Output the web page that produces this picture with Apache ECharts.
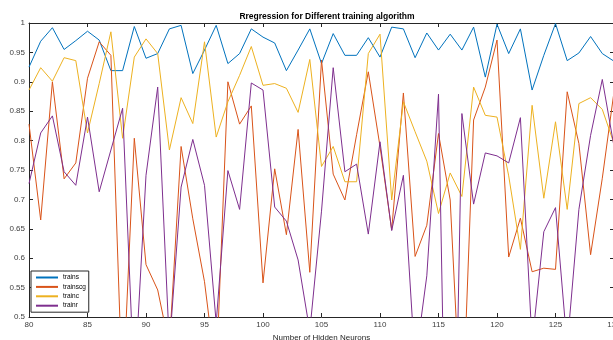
<!DOCTYPE html>
<html>
<head>
<meta charset="utf-8">
<script src="https://cdn.jsdelivr.net/npm/echarts@6/dist/echarts.min.js"></script>
<style>
  html, body { margin: 0; padding: 0; background: #fff; }
  #chart { width: 613px; height: 340px; }
</style>
</head>
<body>
<div id="chart"></div>
<script>
// x = number of hidden neurons, 80..130
const neurons = []
for (let n = 80; n <= 130; n++) neurons.push(n)

const trains = [0.925, 0.969, 0.992, 0.955, 0.970, 0.986, 0.971, 0.919, 0.919, 0.994,
  0.940, 0.948, 0.990, 0.996, 0.914, 0.954, 0.996, 0.931, 0.948, 0.990,
  0.976, 0.966, 0.919, 0.954, 0.990, 0.931, 0.982, 0.945, 0.945, 0.975,
  0.942, 0.993, 0.990, 0.941, 0.983, 0.954, 0.981, 0.954, 0.993, 0.908,
  0.998, 0.948, 0.990, 0.886, 0.945, 0.999, 0.936, 0.949, 0.977, 0.948, 0.935]

const trainscg = [0.828, 0.665, 0.900, 0.735, 0.762, 0.906, 0.968, 0.945, 0.360, 0.804,
  0.589, 0.546, 0.450, 0.790, 0.667, 0.560, 0.400, 0.900, 0.828, 0.859,
  0.558, 0.752, 0.640, 0.819, 0.576, 0.937, 0.743, 0.699, 0.810, 0.917,
  0.790, 0.648, 0.881, 0.603, 0.656, 0.812, 0.699, 0.300, 0.835, 0.891,
  0.971, 0.602, 0.668, 0.577, 0.583, 0.581, 0.883, 0.795, 0.606, 0.736, 0.883]

const trainc = [0.886, 0.924, 0.901, 0.941, 0.936, 0.813, 0.897, 0.985, 0.804, 0.942,
  0.973, 0.948, 0.784, 0.873, 0.829, 0.968, 0.806, 0.866, 0.911, 0.960,
  0.894, 0.897, 0.889, 0.848, 0.938, 0.756, 0.790, 0.730, 0.730, 0.948,
  0.981, 0.699, 0.866, 0.815, 0.765, 0.676, 0.745, 0.705, 0.891, 0.843,
  0.840, 0.740, 0.615, 0.860, 0.702, 0.832, 0.683, 0.863, 0.873, 0.853, 0.795]

const trainr = [0.727, 0.813, 0.842, 0.747, 0.724, 0.840, 0.713, 0.784, 0.855, 0.380,
  0.741, 0.891, 0.450, 0.721, 0.802, 0.724, 0.490, 0.749, 0.683, 0.898,
  0.886, 0.687, 0.663, 0.597, 0.476, 0.680, 0.924, 0.747, 0.760, 0.641,
  0.798, 0.647, 0.741, 0.420, 0.570, 0.879, -0.200, 0.846, 0.692, 0.779,
  0.774, 0.762, 0.839, 0.455, 0.645, 0.686, 0.450, 0.683, 0.809, 0.904, 0.790]

const names = ['trains', 'trainscg', 'trainc', 'trainr']
const colors = ['#0072BD', '#D95319', '#EDB120', '#7E2F8E']
const values = [trains, trainscg, trainc, trainr]

const font = 'Liberation Sans, Arial, sans-serif'
const axisColor = '#262626'

const chart = echarts.init(document.getElementById('chart'), null, { renderer: 'canvas' })

const tickStyle = { show: true, inside: true, length: 4, lineStyle: { color: axisColor, width: 1 } }

chart.setOption({
  backgroundColor: '#fff',
  animation: false,
  textStyle: { fontFamily: font },
  title: {
    text: 'Rregression for Different training algorithm',
    left: 322,
    top: 7,
    textAlign: 'center',
    textStyle: { fontSize: 8.5, fontWeight: 'bold', color: '#000', fontFamily: font }
  },
  legend: {
    data: names,
    orient: 'vertical',
    left: 31,
    top: 271,
    itemWidth: 22,
    itemHeight: 7,
    itemGap: 2.4,
    padding: [3, 3, 3, 4],
    backgroundColor: '#fff',
    borderColor: axisColor,
    borderWidth: 1,
    borderRadius: 0,
    itemStyle: { opacity: 0 },
    textStyle: { fontSize: 6.5, color: '#000', fontFamily: font }
  },
  grid: { left: 29, right: -1, top: 23, bottom: 23, containLabel: false, outerBoundsMode: 'none' },
  xAxis: [{
    type: 'value',
    min: 80,
    max: 130,
    interval: 5,
    name: 'Number of Hidden Neurons',
    nameLocation: 'middle',
    nameGap: 14,
    nameTextStyle: { fontSize: 8, color: axisColor, fontFamily: font },
    axisLine: { show: true, lineStyle: { color: axisColor, width: 1 } },
    axisTick: tickStyle,
    axisLabel: { fontSize: 8, color: '#404040', margin: 4, fontFamily: font, alignMaxLabel: 'center', hideOverlap: false },
    splitLine: { show: false }
  }, {
    type: 'value',
    position: 'top',
    min: 80,
    max: 130,
    interval: 5,
    axisLine: { show: true, lineStyle: { color: axisColor, width: 1 } },
    axisTick: tickStyle,
    axisLabel: { show: false },
    splitLine: { show: false }
  }],
  yAxis: [{
    type: 'value',
    min: 0.5,
    max: 1,
    interval: 0.05,
    axisLine: { show: true, lineStyle: { color: axisColor, width: 1 } },
    axisTick: tickStyle,
    axisLabel: { fontSize: 8, color: '#404040', margin: 4, fontFamily: font },
    splitLine: { show: false }
  }, {
    type: 'value',
    position: 'right',
    min: 0.5,
    max: 1,
    interval: 0.05,
    axisLine: { show: true, lineStyle: { color: axisColor, width: 1 } },
    axisTick: tickStyle,
    axisLabel: { show: false },
    splitLine: { show: false }
  }],
  series: names.map((name, i) => ({
    name,
    type: 'line',
    xAxisIndex: 0,
    yAxisIndex: 0,
    symbol: 'none',
    clip: true,
    color: colors[i],
    lineStyle: { color: colors[i], width: 1 },
    data: neurons.map((n, k) => [n, values[i][k]])
  }))
})
</script>
</body>
</html>
